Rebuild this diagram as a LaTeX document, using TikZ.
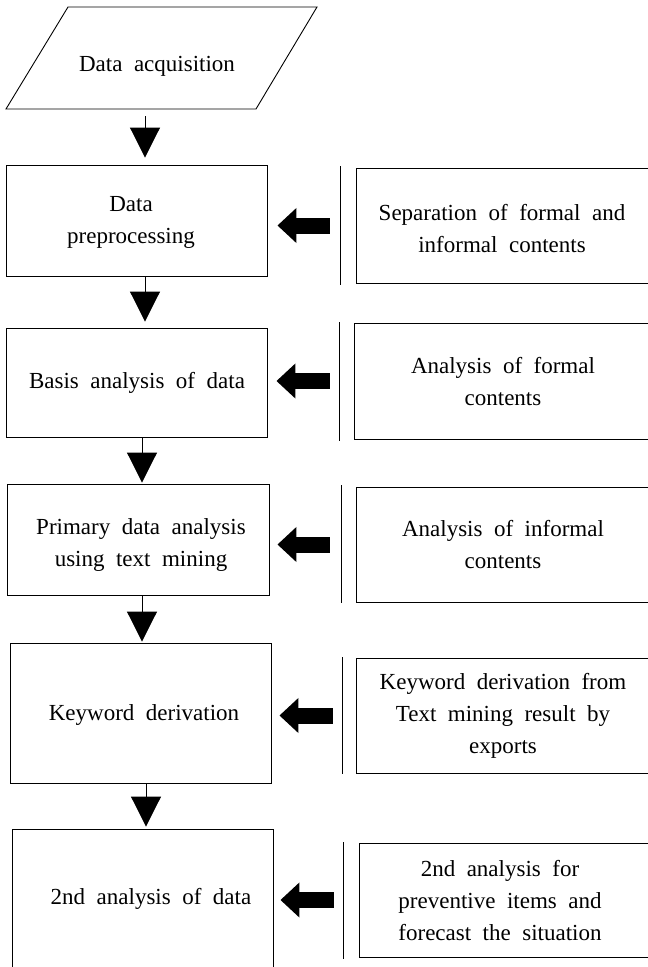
\documentclass[tikz,border=0pt]{standalone}
\usepackage{fontspec}
\setmainfont{Liberation Serif}[WordSpace=2]
\usetikzlibrary{arrows.meta}
\begin{document}
\begin{tikzpicture}[x=1pt,y=-1pt,
  box/.style={draw=black, line width=0.9pt, inner sep=0pt},
  txt/.style={align=center, font=\fontsize{23}{32}\selectfont, inner sep=0pt},
  darr/.style={draw=black, line width=0.9pt, -{Triangle[length=30pt,width=30pt]}},
  blk/.style={draw=black, line width=16pt, -{Triangle[length=19pt,width=34pt]}},
  sepline/.style={draw=black, line width=0.9pt}]
\useasboundingbox (0,0) rectangle (648,967);
\clip (0,0) rectangle (648,967);

% input parallelogram
\draw[line width=0.9pt] (68,7) -- (317,7) -- (256,109) -- (6,109) -- cycle;
\node[txt] (acq) at (157,66) {Data acquisition};
\coordinate (pb) at (145,109);

% left process boxes
\node[box, minimum width=261pt, minimum height=111pt] (b1) at (136.5,220.5) {};
\node[box, minimum width=261pt, minimum height=109pt] (b2) at (136.5,382.5) {};
\node[box, minimum width=262pt, minimum height=111pt] (b3) at (138,539.5) {};
\node[box, minimum width=261pt, minimum height=140pt] (b4) at (140.5,713) {};
\node[box, minimum width=261pt, minimum height=160pt] (b5) at (142.5,909) {};

\node[txt] (t1) at (131,222) {Data\\preprocessing};
\node[txt] (t2) at (137,383) {Basis analysis of data};
\node[txt] (t3) at (141,545) {Primary data analysis\\using text mining};
\node[txt] (t4) at (144,715) {Keyword derivation};
\node[txt] (t5) at (151,899) {2nd analysis of data};

% right boxes
\node[box, minimum width=344pt, minimum height=115pt] (r1) at (528,225.5) {};
\node[box, minimum width=346pt, minimum height=116pt] (r2) at (527,381) {};
\node[box, minimum width=344pt, minimum height=115pt] (r3) at (528,544.5) {};
\node[box, minimum width=344pt, minimum height=115pt] (r4) at (528,715.5) {};
\node[box, minimum width=341pt, minimum height=114pt] (r5) at (529.5,900) {};

\node[txt] (s1) at (502,229) {Separation of formal and\\informal contents};
\node[txt] (s2) at (503,382) {Analysis of formal\\contents};
\node[txt] (s3) at (503,545) {Analysis of informal\\contents};
\node[txt] (s4) at (503,716) {Keyword derivation from\\Text mining result by\\exports};
\node[txt] (s5) at (500,901) {2nd analysis for\\preventive items and\\forecast the situation};

% separator lines
\draw[sepline] (340,166) -- (340,285);
\draw[sepline] (339,322) -- (339,441);
\draw[sepline] (341,485) -- (341,603);
\draw[sepline] (342,657) -- (342,774);
\draw[sepline] (343,842) -- (343,959);

% down arrows
\coordinate (x2) at (145,0);
\coordinate (x3) at (142,0);
\coordinate (x4) at (142,0);
\coordinate (x5) at (146,0);
\draw[darr, shorten <=7pt, shorten >=7pt] (pb) -- (pb |- b1.north);
\draw[darr, shorten >=6pt] (x2 |- b1.south) -- (x2 |- b2.north);
\draw[darr, shorten >=1pt] (x3 |- b2.south) -- (x3 |- b3.north);
\draw[darr, shorten >=1pt] (x4 |- b3.south) -- (x4 |- b4.north);
\draw[darr, shorten >=2pt] (x5 |- b4.south) -- (x5 |- b5.north);

% block arrows
\draw[blk, shorten <=26pt, shorten >=10pt] (r1.west) -- (b1.east |- r1.west);
\draw[blk, shorten <=24pt, shorten >=9pt] (r2.west) -- (b2.east |- r2.west);
\draw[blk, shorten <=26pt, shorten >=8pt] (r3.west) -- (b3.east |- r3.west);
\draw[blk, shorten <=23pt, shorten >=8pt] (r4.west) -- (b4.east |- r4.west);
\draw[blk, shorten <=25pt, shorten >=7pt] (r5.west) -- (b5.east |- r5.west);
\end{tikzpicture}
\end{document}
